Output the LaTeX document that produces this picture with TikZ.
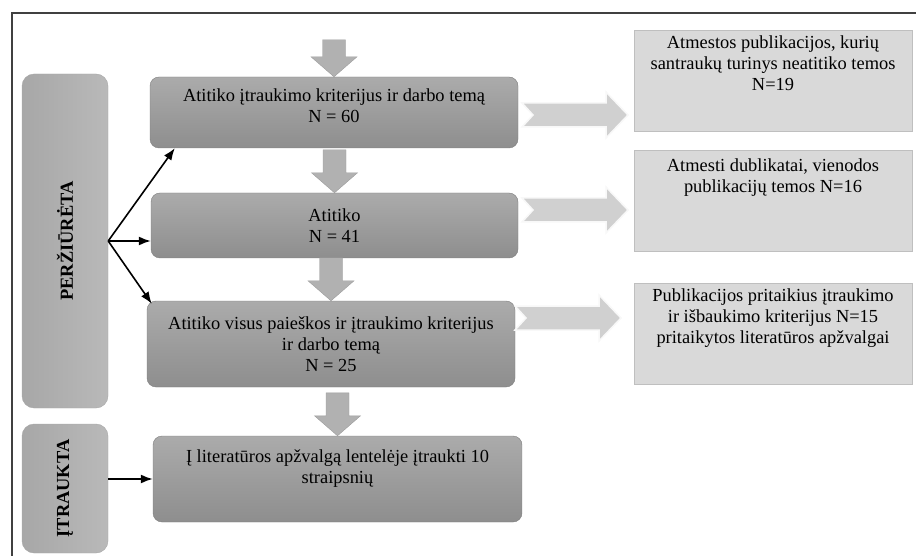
\documentclass[tikz,border=0pt]{standalone}
\usepackage{fontspec}
\setmainfont{Liberation Serif}
\usetikzlibrary{positioning,arrows.meta}
\definecolor{boxtop}{HTML}{ABABAB}
\definecolor{boxbot}{HTML}{8E8E8E}
\definecolor{boxline}{HTML}{7E7E7E}
\definecolor{stagetop}{HTML}{B9B9B9}
\definecolor{stagebot}{HTML}{A7A7A7}
\definecolor{sidefill}{HTML}{D9D9D9}
\definecolor{sideline}{HTML}{BFBFBF}
\definecolor{flowfill}{HTML}{B1B1B1}
\definecolor{flowline}{HTML}{9C9C9C}
\definecolor{skipfill}{HTML}{D0D0D0}
\definecolor{frameline}{HTML}{404040}

\begin{document}
\begin{tikzpicture}[x=1pt,y=-1pt,
every node/.style={font=\fontsize{18.4}{21}\selectfont,inner sep=0pt},
mainbox/.style={draw=boxline,rounded corners=9pt,top color=boxtop,bottom color=boxbot,align=center},
stagebox/.style={draw=stagebot,rounded corners=12pt,rotate=90,left color=stagebot,right color=stagetop,minimum height=86pt,font=\fontsize{18.4}{21}\selectfont\bfseries},
sidebox/.style={draw=sideline,fill=sidefill,minimum width=278pt,minimum height=101pt},
sidetext/.style={align=center},
link/.style={-{Latex[length=12pt,width=9pt]},line width=1.6pt},
pics/downarrow/.style={code={
\filldraw[draw=flowline,fill=flowfill] (0,0) -- (23,-20) -- (11.5,-20) -- (11.5,-20-#1) -- (-11.5,-20-#1) -- (-11.5,-20) -- (-23,-20) -- cycle;}},
pics/sidearrow/.style={code={
\filldraw[draw=white!85!skipfill,fill=skipfill,line width=1.5pt] (0,-12) -- (84,-12) -- (84,-23) -- (106,0) -- (84,23) -- (84,12) -- (0,12) -- (11,0) -- cycle;}}]
\useasboundingbox (0,0) rectangle (916,556);
\draw[frameline,line width=1.5pt] (12,556) -- (12,13) -- (916,13);

\node[stagebox,minimum width=334pt] (rev) at (65,241) {PERŽIŪRĖTA};
\node[stagebox,minimum width=129pt] (incl) at (65,488.5) {ĮTRAUKTA};

\node[mainbox,minimum width=368pt,minimum height=71pt] (fit1) at (334,112.5) {};
\node[below=12pt of fit1.north,align=center] {Atitiko įtraukimo kriterijus ir darbo temą\\N = 60};
\node[mainbox,minimum width=367pt,minimum height=65pt] (fit2) at (334.5,225.5) {Atitiko\\N = 41};
\node[mainbox,minimum width=368pt,minimum height=86pt] (fit3) at (331,344) {Atitiko visus paieškos ir įtraukimo kriterijus\\ir darbo temą\\N = 25};
\node[mainbox,minimum width=369pt,minimum height=86pt] (fit4) at (337.5,479) {};
\node[below=14pt of fit4.north,align=center] {Į literatūros apžvalgą lentelėje įtraukti 10\\straipsnių};

\node[sidebox] (rej1) at (773,80.5) {};
\node[sidetext,below=6pt of rej1.north] {Atmestos publikacijos, kurių\\santraukų turinys neatitiko temos\\N=19};
\node[sidebox] (rej2) at (773,200.5) {};
\node[sidetext,below=9pt of rej2.north] {Atmesti dublikatai, vienodos\\publikacijų temos N=16};
\node[sidebox] (rej3) at (773,333.5) {};
\node[sidetext,below=6pt of rej3.north] {Publikacijos pritaikius įtraukimo\\ir išbaukimo kriterijus N=15\\pritaikytos literatūros apžvalgai};

\pic at (fit1.north) {downarrow=17};
\pic at (fit2.north) {downarrow=23};
\pic at (fit3.north) {downarrow=23};
\pic at (fit4.north) {downarrow=23};

\pic at (522,115) {sidearrow};
\pic at (522,210) {sidearrow};
\pic at (515,318) {sidearrow};

\draw[link] (rev.south) -- ([xshift=25pt]fit1.south west);
\draw[link] (rev.south) -- (rev.south -| fit2.west);
\draw[link] (rev.south) -- ([xshift=5pt,yshift=-3pt]fit3.north west);
\draw[link] (fit4.west -| incl.south) -- (fit4.west);
\end{tikzpicture}
\end{document}
